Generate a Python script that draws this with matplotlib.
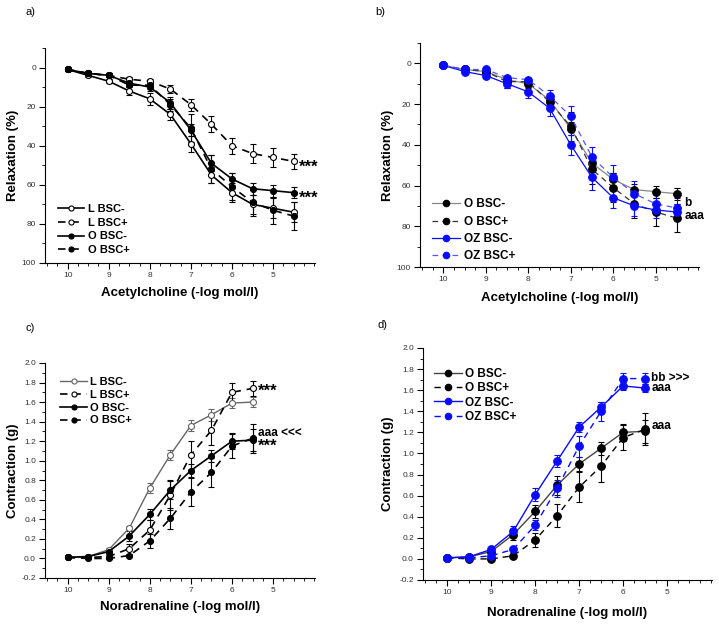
import matplotlib.pyplot as plt
from matplotlib.ticker import MultipleLocator

plt.rcParams['font.family'] = ['Liberation Sans', 'DejaVu Sans']

# acetylcholine relaxation, panels a and b
ach_x = [10, 9.5, 9, 8.5, 8, 7.5, 7, 6.5, 6, 5.5, 5, 4.5]
ach_L_minus = [1, 4, 7, 12, 16, 24, 39, 55, 64, 70, 72, 74]
ach_L_minus_err = [1, 1, 1, 2, 3, 3, 4, 4, 5, 5, 5, 5]
ach_L_plus = [1, 3, 4, 6, 7, 11, 19, 29, 40, 44, 46, 48]
ach_L_plus_err = [1, 1, 1, 1, 1, 2, 3, 4, 4, 5, 5, 4]
ach_O_minus = [1, 3, 4, 8, 10, 18, 32, 49, 57, 62, 63, 64]
ach_O_minus_err = [1, 1, 1, 2, 2, 3, 3, 4, 3, 3, 3, 3]
ach_O_plus = [1, 3, 4, 9, 9, 19, 31, 52, 61, 69, 73, 76]
ach_O_plus_err = [1, 1, 1, 3, 2, 3, 7, 7, 7, 7, 7, 7]
ach_OZ_minus = [1, 4, 6, 10, 14, 22, 40, 56, 66, 70, 72, 73]
ach_OZ_minus_err = [1, 1, 1, 2, 3, 4, 5, 6, 5, 5, 4, 4]
ach_OZ_plus = [1, 3, 3, 7, 8, 16, 26, 46, 56, 64, 69, 71]
ach_OZ_plus_err = [1, 1, 1, 1, 1, 3, 5, 5, 6, 6, 5, 5]

# noradrenaline contraction, panels c and d
na_x = [10, 9.5, 9, 8.5, 8, 7.5, 7, 6.5, 6, 5.5]
na_L_minus = [0.01, 0.02, 0.09, 0.31, 0.72, 1.06, 1.36, 1.47, 1.59, 1.60]
na_L_minus_err = [0.01, 0.01, 0.02, 0.02, 0.05, 0.05, 0.06, 0.06, 0.05, 0.05]
na_L_plus = [0.01, 0.01, 0.02, 0.10, 0.29, 0.65, 1.06, 1.31, 1.70, 1.74]
na_L_plus_err = [0.01, 0.01, 0.02, 0.05, 0.10, 0.15, 0.14, 0.15, 0.10, 0.08]
na_O_minus = [0.01, 0.02, 0.07, 0.23, 0.45, 0.70, 0.90, 1.05, 1.20, 1.21]
na_O_minus_err = [0.01, 0.01, 0.02, 0.05, 0.06, 0.09, 0.07, 0.06, 0.08, 0.11]
na_O_plus = [0.01, 0.00, 0.00, 0.03, 0.18, 0.41, 0.68, 0.88, 1.15, 1.23]
na_O_plus_err = [0.01, 0.01, 0.01, 0.02, 0.07, 0.11, 0.14, 0.15, 0.12, 0.15]
na_OZ_minus = [0.01, 0.02, 0.09, 0.26, 0.61, 0.93, 1.25, 1.44, 1.64, 1.62]
na_OZ_minus_err = [0.01, 0.01, 0.02, 0.05, 0.06, 0.06, 0.05, 0.05, 0.04, 0.04]
na_OZ_plus = [0.01, 0.01, 0.03, 0.09, 0.32, 0.67, 1.07, 1.40, 1.71, 1.71]
na_OZ_plus_err = [0.01, 0.01, 0.01, 0.02, 0.05, 0.08, 0.10, 0.09, 0.05, 0.05]

BLUE = '#0a0aff'
W, H = 719, 627

fig = plt.figure(figsize=(W / 100, H / 100), dpi=100)


def add_ax(x0, y0, x1, y1):
    # pixel box -> figure fraction
    return fig.add_axes([x0 / W, 1 - y1 / H, (x1 - x0) / W, (y1 - y0) / H])


def style(ax, xlabel, ylabel, xl_y, yl_x):
    ax.set_xlim(10.55, 3.98)
    ax.set_xticks([10, 9, 8, 7, 6, 5])
    ax.xaxis.set_minor_locator(MultipleLocator(0.25))
    for s in ['top', 'right']:
        ax.spines[s].set_visible(False)
    for s in ['left', 'bottom']:
        ax.spines[s].set_linewidth(0.8)
    ax.tick_params(which='major', length=4, width=0.8, labelsize=6, pad=2.5, labelcolor='#333333')
    ax.tick_params(which='minor', length=2, width=0.6)
    ax.set_xlabel(xlabel, fontsize=9.5, fontweight='bold')
    ax.set_ylabel(ylabel, fontsize=9.5, fontweight='bold')
    ax.xaxis.set_label_coords(0.5, xl_y)
    ax.xaxis.label.set_va('center')
    ax.yaxis.set_label_coords(yl_x, 0.5)
    ax.yaxis.label.set_va('center')


def curve(ax, x, y, e, color, ls, mfc, lw=1.2, ms=4.3, ecolor=None):
    ec = color if ecolor is None else ecolor
    c = ax.errorbar(x, y, yerr=e, color=color, ls=ls, lw=lw, marker='o', ms=ms,
                    mfc=mfc, mec=ec, mew=0.8, ecolor=ec, elinewidth=0.8,
                    capsize=2, capthick=0.8)
    if ls == '--':
        c.lines[0].set_dashes((4.5, 3.5))
    return c.lines[0]


def legend(ax, handles, labels, loc, anchor, size, spacing):
    ax.legend(handles, labels, loc=loc, bbox_to_anchor=anchor, frameon=False,
              handlelength=2.4, handletextpad=0.3, labelspacing=spacing, numpoints=1,
              markerscale=0.85, borderaxespad=0, prop={'weight': 'bold', 'size': size})


def note(ax, x, y, s, size=8.5):
    ax.text(x, y, s, fontsize=size, fontweight='bold', va='center')


# panel a
ax = add_ax(45, 48, 315, 263)
h = [curve(ax, ach_x, ach_L_minus, ach_L_minus_err, 'black', '-', 'white'),
     curve(ax, ach_x, ach_L_plus, ach_L_plus_err, 'black', '--', 'white'),
     curve(ax, ach_x, ach_O_minus, ach_O_minus_err, 'black', '-', 'black'),
     curve(ax, ach_x, ach_O_plus, ach_O_plus_err, 'black', '--', 'black')]
ax.set_ylim(100, -10)
ax.yaxis.set_major_locator(MultipleLocator(20))
ax.yaxis.set_minor_locator(MultipleLocator(10))
style(ax, 'Acetylcholine (-log mol/l)', 'Relaxation (%)', -0.14, -0.118)
legend(ax, h, ['L BSC-', 'L BSC+', 'O BSC-', 'O BSC+'], 'lower left', (0.03, 0.015), 8, 0.35)
note(ax, 4.36, 51, '***', 12)
note(ax, 4.36, 67, '***', 12)

# panel b
ax = add_ax(420, 43, 699, 267)
h = [curve(ax, ach_x, ach_O_minus, ach_O_minus_err, '#888888', '-', 'black', lw=0.9, ms=5.5, ecolor='black'),
     curve(ax, ach_x, ach_O_plus, ach_O_plus_err, '#333333', '--', 'black', lw=0.9, ms=5.5, ecolor='black'),
     curve(ax, ach_x, ach_OZ_minus, ach_OZ_minus_err, BLUE, '-', BLUE, lw=0.9, ms=5.5),
     curve(ax, ach_x, ach_OZ_plus, ach_OZ_plus_err, '#5555ff', '--', BLUE, lw=0.9, ms=5.5, ecolor=BLUE)]
ax.set_ylim(100, -10)
ax.yaxis.set_major_locator(MultipleLocator(20))
ax.yaxis.set_minor_locator(MultipleLocator(10))
style(ax, 'Acetylcholine (-log mol/l)', 'Relaxation (%)', -0.138, -0.115)
legend(ax, h, ['O BSC-', 'O BSC+', 'OZ BSC-', 'OZ BSC+'], 'lower left', (0.025, 0.0), 8.5, 0.45)
note(ax, 4.33, 68.8, 'b')
note(ax, 4.33, 75.2, 'aaa')

# panel c
ax = add_ax(45, 363, 315, 578)
h = [curve(ax, na_x, na_L_minus, na_L_minus_err, '#666666', '-', 'white', lw=1.0),
     curve(ax, na_x, na_L_plus, na_L_plus_err, 'black', '--', 'white'),
     curve(ax, na_x, na_O_minus, na_O_minus_err, 'black', '-', 'black'),
     curve(ax, na_x, na_O_plus, na_O_plus_err, 'black', '--', 'black')]
ax.set_ylim(-0.2, 2.0)
ax.yaxis.set_major_locator(MultipleLocator(0.2))
ax.yaxis.set_minor_locator(MultipleLocator(0.1))
ax.yaxis.set_major_formatter(plt.FormatStrFormatter('%.1f'))
style(ax, 'Noradrenaline (-log mol/l)', 'Contraction (g)', -0.135, -0.118)
legend(ax, h, ['L BSC-', 'L BSC+', 'O BSC-', 'O BSC+'], 'upper left', (0.04, 0.955), 8, 0.25)
note(ax, 5.36, 1.71, '***', 12)
note(ax, 5.36, 1.28, 'aaa <<<')
note(ax, 5.36, 1.15, '***', 12)

# panel d
ax = add_ax(423, 348, 712, 580)
h = [curve(ax, na_x, na_O_minus, na_O_minus_err, '#444444', '-', 'black', lw=1.0, ms=5.5, ecolor='black'),
     curve(ax, na_x, na_O_plus, na_O_plus_err, 'black', '--', 'black', lw=1.0, ms=5.5),
     curve(ax, na_x, na_OZ_minus, na_OZ_minus_err, BLUE, '-', BLUE, lw=1.0, ms=5.5),
     curve(ax, na_x, na_OZ_plus, na_OZ_plus_err, BLUE, '--', BLUE, lw=1.0, ms=5.5)]
ax.set_ylim(-0.2, 2.0)
ax.yaxis.set_major_locator(MultipleLocator(0.2))
ax.yaxis.set_minor_locator(MultipleLocator(0.1))
ax.yaxis.set_major_formatter(plt.FormatStrFormatter('%.1f'))
style(ax, 'Noradrenaline (-log mol/l)', 'Contraction (g)', -0.142, -0.121)
legend(ax, h, ['O BSC-', 'O BSC+', 'OZ BSC-', 'OZ BSC+'], 'upper left', (0.02, 0.935), 8.5, 0.2)
note(ax, 5.36, 1.72, 'bb >>>')
note(ax, 5.36, 1.62, 'aaa')
note(ax, 5.36, 1.26, 'aaa')

for lab, (px, py) in zip(['a)', 'b)', 'c)', 'd)'], [(25, 12), (375, 12), (25, 328), (378, 325)]):
    fig.text(px / W, 1 - py / H, lab, fontsize=8, va='center')

fig.savefig('out.png', dpi=100)
